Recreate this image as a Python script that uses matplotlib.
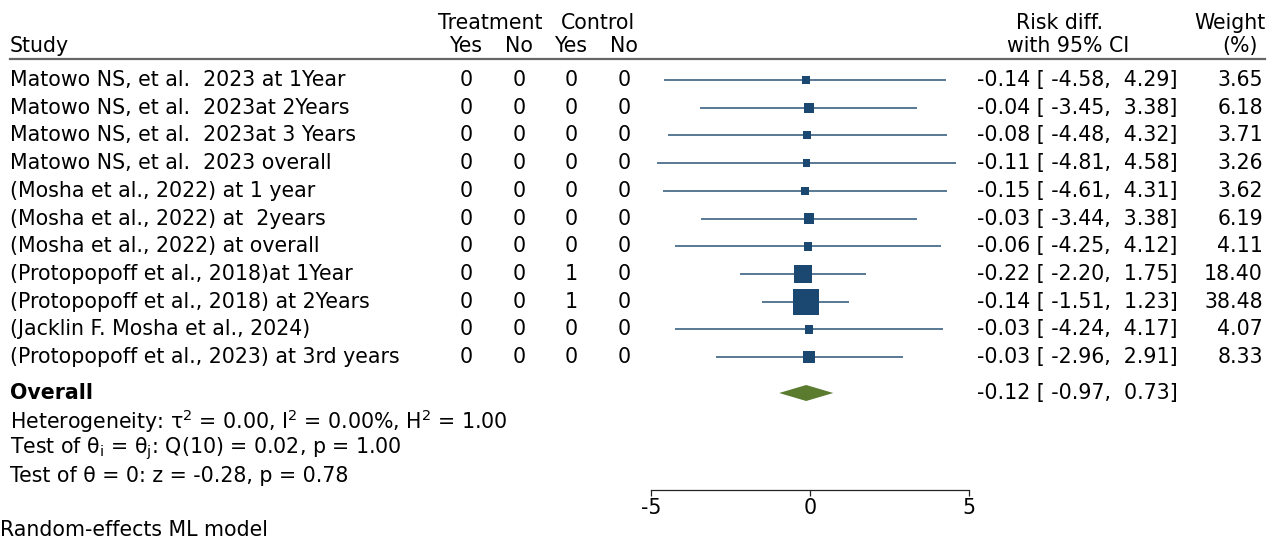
import matplotlib
matplotlib.use("Agg")
import matplotlib.pyplot as plt
from matplotlib.transforms import blended_transform_factory

plt.rcParams['font.family'] = ['DejaVu Sans']
plt.rcParams['mathtext.fontset'] = 'dejavusans'

studies = [
    "Matowo NS, et al.  2023 at 1Year",
    "Matowo NS, et al.  2023at 2Years",
    "Matowo NS, et al.  2023at 3 Years",
    "Matowo NS, et al.  2023 overall",
    "(Mosha et al., 2022) at 1 year",
    "(Mosha et al., 2022) at  2years",
    "(Mosha et al., 2022) at overall",
    "(Protopopoff et al., 2018)at 1Year",
    "(Protopopoff et al., 2018) at 2Years",
    "(Jacklin F. Mosha et al., 2024)",
    "(Protopopoff et al., 2023) at 3rd years",
]
treat_yes = [0, 0, 0, 0, 0, 0, 0, 0, 0, 0, 0]
treat_no = [0, 0, 0, 0, 0, 0, 0, 0, 0, 0, 0]
ctrl_yes = [0, 0, 0, 0, 0, 0, 0, 1, 1, 0, 0]
ctrl_no = [0, 0, 0, 0, 0, 0, 0, 0, 0, 0, 0]
rd = [-0.14, -0.04, -0.08, -0.11, -0.15, -0.03, -0.06, -0.22, -0.14, -0.03, -0.03]
ci_lo = [-4.58, -3.45, -4.48, -4.81, -4.61, -3.44, -4.25, -2.20, -1.51, -4.24, -2.96]
ci_hi = [4.29, 3.38, 4.32, 4.58, 4.31, 3.38, 4.12, 1.75, 1.23, 4.17, 2.91]
weights = [3.65, 6.18, 3.71, 3.26, 3.62, 6.19, 4.11, 18.40, 38.48, 4.07, 8.33]
overall = (-0.12, -0.97, 0.73)
xticks = [-5, 0, 5]

W, H = 1268, 540
FS = 14.8
fig = plt.figure(figsize=(W / 100, H / 100), dpi=100)
fig.patch.set_facecolor('white')

# axes spans pixel x 651..969, pixel y 0..490
ax = fig.add_axes([651 / W, 50 / H, 318 / W, 490 / H])
ROW0, STEP = 80.0, 27.72
def r2(p):
    return (p - ROW0) / STEP
ax.set_xlim(-5, 5)
ax.set_ylim(r2(490), r2(0))
for s in ['left', 'top', 'right']:
    ax.spines[s].set_visible(False)
ax.spines['bottom'].set_color('#222222')
ax.spines['bottom'].set_linewidth(0.9)
ax.set_yticks([])
ax.set_xticks(xticks)
ax.set_xticklabels([str(t) for t in xticks], fontsize=FS)
ax.tick_params(axis='x', direction='out', length=4.5, width=0.9, pad=1, color='#222222')
ax.patch.set_alpha(0)

tr = blended_transform_factory(fig.transFigure, ax.transData)
def fx(px):
    return px / W

line_col = '#2b5378'
sq_col = '#1b4870'
diam_col = '#5b7b2f'

rows = list(range(len(studies)))
for i in rows:
    ax.plot([ci_lo[i], ci_hi[i]], [i, i], color=line_col, lw=1.1, solid_capstyle='butt', zorder=2)
ax.scatter(rd, rows, s=[9.1 * w for w in weights], marker='s', color=sq_col, zorder=3, linewidths=0)

r_ov = r2(393)
h = 8.0 / STEP
est, lo, hi = overall
ax.fill([lo, est, hi, est], [r_ov, r_ov - h, r_ov, r_ov + h], color=diam_col, lw=0, zorder=3)

y_h1, y_h2 = r2(23), r2(46)
ax.text(fx(490), y_h1, "Treatment", transform=tr, ha='center', va='center', fontsize=FS)
ax.text(fx(598), y_h1, "Control", transform=tr, ha='center', va='center', fontsize=FS)
ax.text(fx(10), y_h2, "Study", transform=tr, ha='left', va='center', fontsize=FS)
col_x = [466, 519, 571, 624]
for x, lab in zip(col_x, ["Yes", "No", "Yes", "No"]):
    ax.text(fx(x), y_h2, lab, transform=tr, ha='center', va='center', fontsize=FS)
ax.text(fx(1060), y_h1, "Risk diff.", transform=tr, ha='center', va='center', fontsize=FS)
ax.text(fx(1068), y_h2, "with 95% CI", transform=tr, ha='center', va='center', fontsize=FS)
ax.text(fx(1266), y_h1, "Weight", transform=tr, ha='right', va='center', fontsize=FS)
ax.text(fx(1240), y_h2, "(%)", transform=tr, ha='center', va='center', fontsize=FS)
ax.plot([fx(10), fx(1265)], [r2(59), r2(59)], transform=tr, color='#666666', lw=1.6, clip_on=False)

for i in rows:
    ax.text(fx(10), i, studies[i], transform=tr, ha='left', va='center', fontsize=FS)
    for x, v in zip(col_x, [treat_yes[i], treat_no[i], ctrl_yes[i], ctrl_no[i]]):
        ax.text(fx(x), i, str(v), transform=tr, ha='center', va='center', fontsize=FS)
    ax.text(fx(977), i, f"{rd[i]:.2f} [ {ci_lo[i]:.2f}, {ci_hi[i]:5.2f}]",
            transform=tr, ha='left', va='center', fontsize=FS)
    ax.text(fx(1263), i, f"{weights[i]:.2f}", transform=tr, ha='right', va='center', fontsize=FS)

ax.text(fx(10), r_ov, "Overall", transform=tr, ha='left', va='center', fontsize=FS, fontweight='bold')
ax.text(fx(977), r_ov, f"{est:.2f} [ {lo:.2f},  {hi:.2f}]", transform=tr, ha='left', va='center', fontsize=FS)
ax.text(fx(10), r2(421), r"Heterogeneity: τ$^{2}$ = 0.00, I$^{2}$ = 0.00%, H$^{2}$ = 1.00",
        transform=tr, ha='left', va='center', fontsize=FS)
ax.text(fx(10), r2(449), r"Test of θ$_{\mathrm{i}}$ = θ$_{\mathrm{j}}$: Q(10) = 0.02, p = 1.00",
        transform=tr, ha='left', va='center', fontsize=FS)
ax.text(fx(10), r2(476), "Test of θ = 0: z = -0.28, p = 0.78",
        transform=tr, ha='left', va='center', fontsize=FS)
ax.text(fx(0), r2(530), "Random-effects ML model", transform=tr, ha='left', va='center', fontsize=FS)

fig.savefig("out.png", dpi=100, facecolor='white')
